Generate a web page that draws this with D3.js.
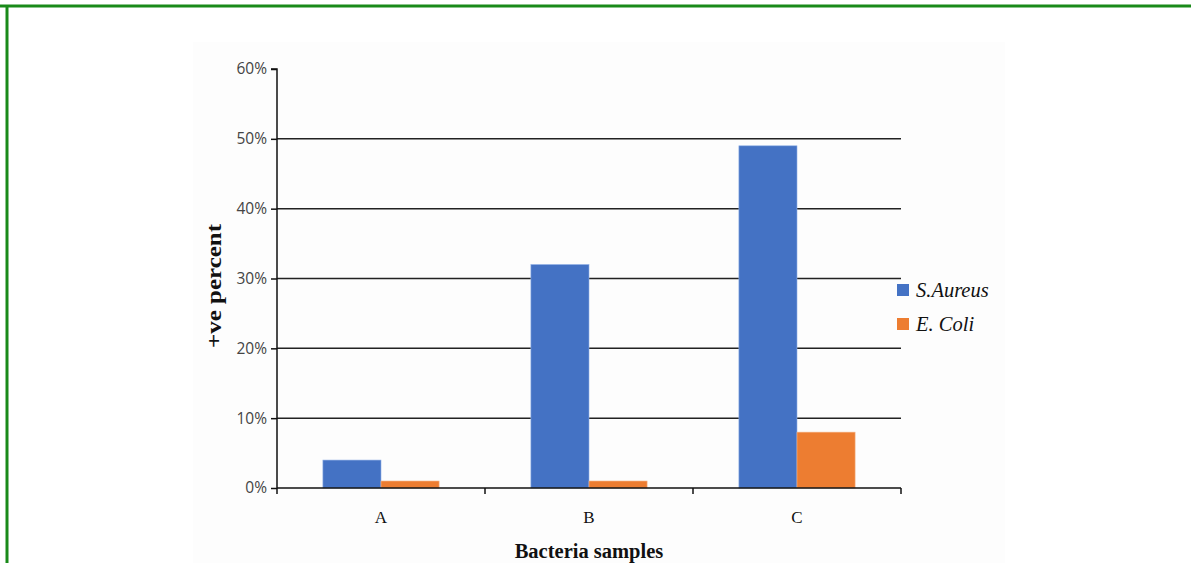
<!DOCTYPE html>
<html><head><meta charset="utf-8">
<script src="https://cdn.jsdelivr.net/npm/d3@7/dist/d3.min.js"></script>
<style>
html,body{margin:0;padding:0;background:#fff;}
svg{display:block;}
</style></head>
<body>
<svg id="chart" width="1191" height="563"></svg>
<script>
const categories = ["A", "B", "C"];
const seriesNames = ["S.Aureus", "E. Coli"];
const sAureus = [4, 32, 49];
const eColi = [1, 1, 8];
const yTicks = [0, 10, 20, 30, 40, 50, 60];
const colors = ["#4472C4", "#ED7D31"];

(function(){
const svg = d3.select("#chart");
// frame border (top & left)
svg.append("line").attr("x1",0).attr("x2",1191).attr("y1",6).attr("y2",6).attr("stroke","#1a8a1a").attr("stroke-width",3);
svg.append("line").attr("x1",7).attr("x2",7).attr("y1",5).attr("y2",563).attr("stroke","#1a8a1a").attr("stroke-width",3);
// faint chart area
svg.append("rect").attr("x",193).attr("y",42).attr("width",812).attr("height",521).attr("fill","#fdfdfd");

const pL = 277, pR = 901, pT = 69, pB = 488;
const x = d3.scaleBand().domain(categories).range([pL, pR]).paddingInner(0).paddingOuter(0);
const y = d3.scaleLinear().domain([0, 60]).range([pB, pT]);
const xs = d3.scaleBand().domain(seriesNames).range([0, x.bandwidth()]).paddingInner(0).paddingOuter(0.79);

// gridlines
svg.append("g").selectAll("line").data(yTicks.filter(d => d > 0 && d < 60)).join("line")
  .attr("x1", pL).attr("x2", pR).attr("y1", d => y(d)).attr("y2", d => y(d))
  .attr("stroke", "#222").attr("stroke-width", 1.5);

// bars
const data = categories.map((c, i) => ({c, vals: [sAureus[i], eColi[i]]}));
const g = svg.append("g");
data.forEach(d => {
  d.vals.forEach((v, j) => {
    g.append("rect")
      .attr("x", x(d.c) + xs(seriesNames[j]))
      .attr("y", y(v))
      .attr("width", xs.bandwidth())
      .attr("height", y(0) - y(v))
      .attr("fill", colors[j])
      .attr("stroke", j === 0 ? "#8fb0e6" : "#f5b58a").attr("stroke-width", 0.6);
  });
});

// y axis
const yAxis = d3.axisLeft(y).tickValues(yTicks).tickFormat(d => d + "%").tickSize(6).tickPadding(4);
const ya = svg.append("g").attr("transform", `translate(${pL},0)`).call(yAxis);
ya.select(".domain").attr("stroke", "#111").attr("stroke-width", 1.5).attr("d", `M-6,${pT}H0V${pB}`);
ya.selectAll(".tick line").attr("stroke", "#111").attr("stroke-width", 1.5);
ya.selectAll(".tick text").attr("font-family", "'Open Sans', 'DejaVu Sans', sans-serif").attr("font-size", 15.5).attr("fill", "#444");

// x axis
const xa = svg.append("g").attr("transform", `translate(0,${pB})`);
xa.append("line").attr("x1", pL).attr("x2", pR).attr("y1", 0).attr("y2", 0).attr("stroke", "#111").attr("stroke-width", 1.5);
const boundaries = [pL, ...categories.map(c => x(c) + x.bandwidth())];
xa.selectAll("line.tk").data(boundaries).join("line").attr("class","tk")
  .attr("x1", d => d).attr("x2", d => d).attr("y1", 0).attr("y2", 6).attr("stroke", "#111").attr("stroke-width", 1.5);
xa.selectAll("text").data(categories).join("text")
  .attr("x", d => x(d) + x.bandwidth()/2).attr("y", 35)
  .attr("text-anchor", "middle").attr("font-family", "'Liberation Serif', 'Times New Roman', serif")
  .attr("font-size", 17).attr("fill", "#111").text(d => d);

// axis titles
svg.append("text").attr("x", 589).attr("y", 558).attr("text-anchor", "middle")
  .attr("font-family", "'Liberation Serif', 'Times New Roman', serif").attr("font-weight", "bold")
  .attr("font-size", 20.5).attr("fill", "#111").text("Bacteria samples");
svg.append("text").attr("transform", "translate(221,286) rotate(-90)").attr("text-anchor", "middle")
  .attr("font-family", "'Liberation Serif', 'Times New Roman', serif").attr("font-weight", "bold")
  .attr("font-size", 20).attr("fill", "#111")
  .attr("textLength", 124).attr("lengthAdjust", "spacingAndGlyphs").text("+ve percent");

// legend
const lg = svg.append("g");
seriesNames.forEach((n, i) => {
  lg.append("rect").attr("x", 897).attr("y", 284 + i*34).attr("width", 12).attr("height", 12).attr("fill", colors[i]);
  lg.append("text").attr("x", 916).attr("y", 297 + i*34)
    .attr("font-family", "'Liberation Serif', 'Times New Roman', serif").attr("font-style", "italic")
    .attr("font-size", 20.5).attr("fill", "#111").text(n);
});
})();
</script>
</body></html>
